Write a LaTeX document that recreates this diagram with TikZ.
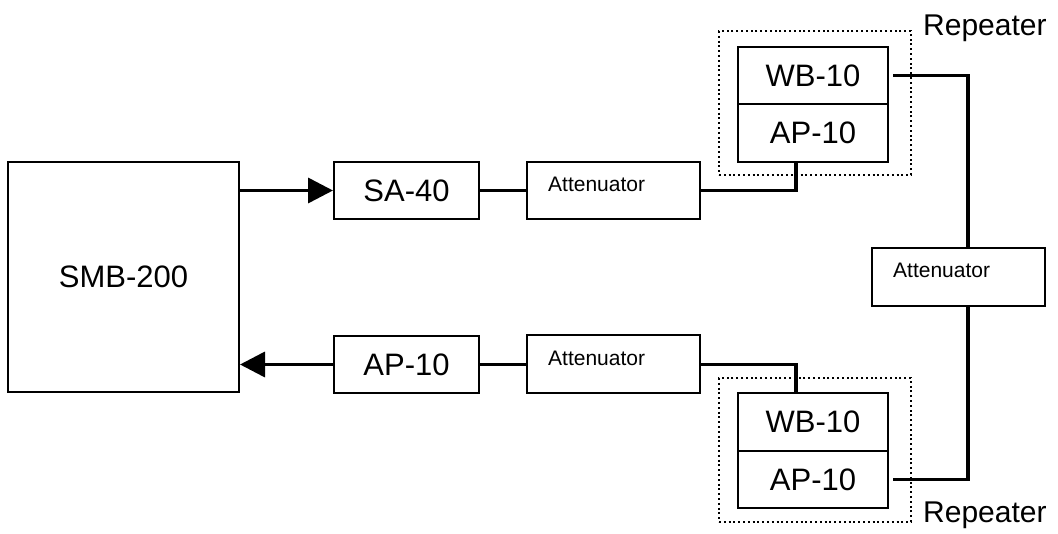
\documentclass[tikz,border=0pt]{standalone}
\usepackage{fontspec}
\setmainfont{Liberation Sans}
\usetikzlibrary{arrows.meta}
\begin{document}
\begin{tikzpicture}[x=1pt,y=-1pt,
  box/.style={draw, line width=2pt, inner sep=0pt, font=\fontsize{31}{36}\selectfont},
  attbox/.style={draw, line width=2pt, inner sep=0pt, minimum width=173pt},
  atttext/.style={anchor=base west, inner sep=0pt, font=\fontsize{21}{25}\selectfont},
  reptext/.style={anchor=base west, inner sep=0pt, font=\fontsize{30}{36}\selectfont},
  repbox/.style={draw, line width=2pt, dash pattern=on 2pt off 2.8pt, inner sep=0pt, minimum width=192pt, minimum height=144pt},
  conn/.style={line width=3.6pt},
  arr/.style={line width=3.6pt, -{Triangle[length=25pt,width=25pt]}}
]
\useasboundingbox (0,0) rectangle (1058,534);

% main boxes
\node[box, minimum width=231pt, minimum height=230pt] (smb) at (123.5,277) {SMB-200};
\node[box, minimum width=145pt, minimum height=57pt] (sa) at (406.5,190.5) {SA-40};
\node[box, minimum width=145pt, minimum height=57pt] (ap) at (406.5,364.5) {AP-10};

% attenuators
\node[attbox, minimum height=57pt] (att1) at (613.5,190.5) {};
\node[atttext] (att1t) at (548,192) {Attenuator};
\node[attbox, minimum height=58pt] (att2) at (613.5,364.5) {};
\node[atttext] (att2t) at (548,366) {Attenuator};
\node[attbox, minimum height=58pt] (att3) at (958.5,277) {};
\node[atttext] (att3t) at (893,278) {Attenuator};

% repeaters
\node[repbox] (rep1) at (815,103) {};
\node[box, minimum width=150pt, minimum height=57pt] (wb1) at (813,75.5) {WB-10};
\node[box, minimum width=150pt, minimum height=58pt] (apr1) at (813,133) {AP-10};
\node[reptext] (rep1t) at (923,36) {Repeater};

\node[repbox] (rep2) at (815,450) {};
\node[box, minimum width=150pt, minimum height=58pt] (wb2) at (813,422) {WB-10};
\node[box, minimum width=150pt, minimum height=57pt] (apr2) at (813,479.5) {AP-10};
\node[reptext] (rep2t) at (923,522) {Repeater};

% connectors
\draw[arr] (smb.east |- sa.west) -- (sa.west);
\draw[conn] (sa.east) -- (att1.west);
\draw[conn] (att1.east) -| ([xshift=-17pt]apr1.south);
\draw[conn] ([xshift=4pt]wb1.east) -| ([xshift=9.5pt]att3.north);
\draw[conn] ([xshift=9.5pt]att3.south) |- ([xshift=4pt]apr2.east);
\draw[conn] (att2.east) -| ([xshift=-17pt]wb2.north);
\draw[conn] (ap.east) -- (att2.west);
\draw[arr] (ap.west) -- (smb.east |- ap.west);
\end{tikzpicture}
\end{document}
